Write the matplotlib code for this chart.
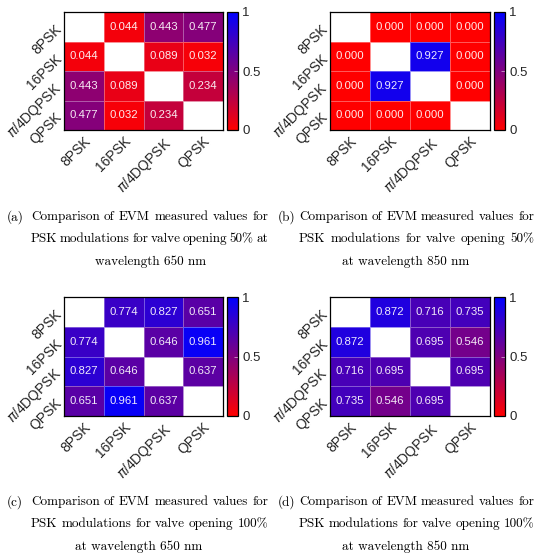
import numpy as np
import matplotlib
matplotlib.use("Agg")
import matplotlib.pyplot as plt
from matplotlib.colors import LinearSegmentedColormap

# Data
mods = ["8PSK", "16PSK", r"$\pi$/4DQPSK", "QPSK"]
nan = np.nan
evm_a = [[nan, 0.044, 0.443, 0.477],
         [0.044, nan, 0.089, 0.032],
         [0.443, 0.089, nan, 0.234],
         [0.477, 0.032, 0.234, nan]]
evm_b = [[nan, 0.000, 0.000, 0.000],
         [0.000, nan, 0.927, 0.000],
         [0.000, 0.927, nan, 0.000],
         [0.000, 0.000, 0.000, nan]]
evm_c = [[nan, 0.774, 0.827, 0.651],
         [0.774, nan, 0.646, 0.961],
         [0.827, 0.646, nan, 0.637],
         [0.651, 0.961, 0.637, nan]]
evm_d = [[nan, 0.872, 0.716, 0.735],
         [0.872, nan, 0.695, 0.546],
         [0.716, 0.695, nan, 0.695],
         [0.735, 0.546, 0.695, nan]]

labels = ["(a)", "(b)", "(c)", "(d)"]
captions = [
    ("Comparison of EVM measured values for",
     "PSK modulations for valve opening 50% at",
     "wavelength 650 nm"),
    ("Comparison of EVM measured values for",
     "PSK modulations for valve opening 50%",
     "at wavelength 850 nm"),
    ("Comparison of EVM measured values for",
     "PSK modulations for valve opening 100%",
     "at wavelength 650 nm"),
    ("Comparison of EVM measured values for",
     "PSK modulations for valve opening 100%",
     "at wavelength 850 nm"),
]

W, H = 536, 558
cmap = LinearSegmentedColormap.from_list("rb", ["#ff0000", "#0000ff"])
sans = "Liberation Sans"
tcol = "#262626"
cfont = dict(family="cmr10", fontsize=9.5, color="black", va="center")

fig = plt.figure(figsize=(W / 100, H / 100), dpi=100)
renderer = fig.canvas.get_renderer()


def px_axes(x0, y0, x1, y1):
    return fig.add_axes([x0 / W, 1 - y1 / H, (x1 - x0) / W, (y1 - y0) / H])


def justify(line, x0, x1, y):
    # spread the words of one caption line between x0 and x1 (pixels)
    words = line.split(" ")
    texts = [fig.text(0, 1 - y / H, w, ha="left", **cfont) for w in words]
    widths = [t.get_window_extent(renderer).width for t in texts]
    gap = (x1 - x0 - sum(widths)) / (len(words) - 1)
    x = x0
    for t, w in zip(texts, widths):
        t.set_x(x / W)
        x += w + gap


# heatmap box, colorbar box, caption x: label, hang start, end, line-3 centre
layout = [
    ((64, 12, 223, 130), (227, 12, 238, 130), (7, 31, 268, 151), (217, 239, 262)),
    ((330, 12, 490, 130), (494, 12, 505, 130), (278, 299, 534, 406), (217, 239, 262)),
    ((64, 297, 223, 416), (227, 297, 238, 416), (7, 31, 268, 139), (502, 524, 547)),
    ((330, 297, 490, 416), (494, 297, 505, 416), (278, 299, 534, 406), (502, 524, 547)),
]

for data, (hbox, cbox, cx, ys), lab, cap in zip(
        [evm_a, evm_b, evm_c, evm_d], layout, labels, captions):
    z = np.array(data, dtype=float)
    ax = px_axes(*hbox)
    mesh = ax.pcolormesh(np.ma.masked_invalid(z), cmap=cmap, vmin=0, vmax=1,
                         edgecolors=(1, 1, 1, 0.35), linewidth=0.6)
    ax.set_xlim(0, 4)
    ax.set_ylim(4, 0)
    for i in range(4):
        for j in range(4):
            if not np.isnan(z[i, j]):
                ax.text(j + 0.5, i + 0.5, f"{z[i, j]:.3f}", ha="center",
                        va="center", color="white", alpha=0.92,
                        fontsize=8.2, family=sans)
    ax.set_xticks(np.arange(4) + 0.5)
    ax.set_yticks(np.arange(4) + 0.5)
    ax.set_xticklabels(mods, rotation=45, ha="right", rotation_mode="anchor",
                       fontsize=10, family=sans, color=tcol)
    ax.set_yticklabels(mods, rotation=45, ha="right", va="center",
                       rotation_mode="anchor", fontsize=10, family=sans,
                       color=tcol)
    ax.tick_params(length=0, pad=3)
    for s in ax.spines.values():
        s.set_linewidth(0.9)

    cax = px_axes(*cbox)
    cb = fig.colorbar(mesh, cax=cax, ticks=[0, 0.5, 1])
    cb.ax.set_yticklabels(["0", "0.5", "1"], fontsize=9.5, family=sans,
                          color=tcol)
    cb.ax.tick_params(direction="in", length=3, color=(1, 1, 1, 0.6),
                      width=0.6, pad=3)
    cb.outline.set_linewidth(0.9)

    fig.text(cx[0] / W, 1 - ys[0] / H, lab, ha="left", **cfont)
    justify(cap[0], cx[1], cx[2], ys[0])
    justify(cap[1], cx[1], cx[2], ys[1])
    fig.text(cx[3] / W, 1 - ys[2] / H, cap[2], ha="center", **cfont)

fig.savefig("out.png", dpi=100)
